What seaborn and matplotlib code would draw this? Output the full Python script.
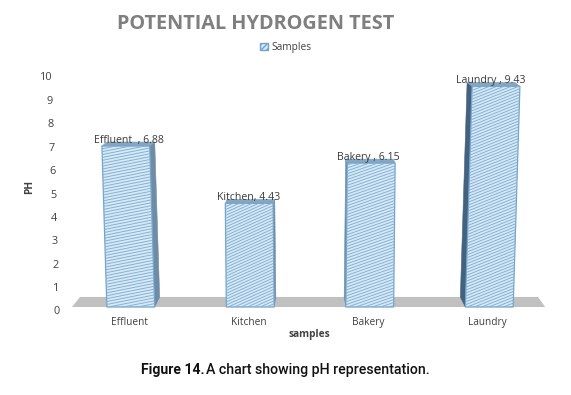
import numpy as np
import pandas as pd
import seaborn as sns
import matplotlib
matplotlib.use("Agg")
import matplotlib.pyplot as plt
from matplotlib.collections import LineCollection
from matplotlib.patches import Patch, Polygon
from matplotlib.transforms import Affine2D, ScaledTranslation

# data
categories = ["Effluent", "Kitchen", "Bakery", "Laundry"]
ph_values = [6.88, 4.43, 6.15, 9.43]
point_labels = ["Effluent  , 6.88", "Kitchen, 4.43", "Bakery , 6.15", "Laundry , 9.43"]
y_ticks = list(range(11))

sns.set_theme(style="white", rc={"font.family": ["Open Sans", "DejaVu Sans"]})

FACE = "#d8e8f4"
HATCH = "#82b2d6"
EDGE = "#74a3ca"
W, H = 571, 395

df = pd.DataFrame({"site": categories, "ph": ph_values})

fig = plt.figure(figsize=(W / 100, H / 100), dpi=100, facecolor="white")
ax = fig.add_axes([71 / W, (H - 307) / H, 478 / W, 234 / H])

sns.barplot(data=df, x="site", y="ph", width=0.4, color=FACE, saturation=1,
            edgecolor=EDGE, linewidth=0.9, zorder=3, ax=ax)
ax.set_xlim(-0.5, 3.5)
ax.set_ylim(0, 10)
sns.despine(ax=ax, left=True, bottom=True)

# grey floor
ax.add_patch(Polygon([[0.002, 0], [0.992, 0], [0.977, 0.043], [0.019, 0.043]],
                     closed=True, transform=ax.transAxes, facecolor="#c0c0c0",
                     edgecolor="none", clip_on=False, zorder=1))

# fake 3d: lean each bar away from the centre, add side and top faces
lean = 0.004
depth = 0.028
slopes = [0.2, 0.45, 0.35, 0.4]
label_dx = [-1, -1, -1, 1]
px_x = 119.5
px_y = 23.4
for i, bar in enumerate(ax.patches[:4]):
    xc = bar.get_x() + bar.get_width() / 2
    x0, x1 = bar.get_x(), bar.get_x() + bar.get_width()
    val = bar.get_height()
    k = (xc - 1.5) * lean
    dx = -(xc - 1.5) * depth
    top_l, top_r = x0 + k * val, x1 + k * val
    back_top = val + 4 / px_y
    back_bot = 10 / px_y

    # side face, on the side that faces the middle of the chart
    if dx > 0:
        side = [[top_r, val], [top_r + dx, back_top], [x1 + dx, back_bot], [x1, 0]]
    else:
        side = [[top_l, val], [top_l + dx, back_top], [x0 + dx, back_bot], [x0, 0]]
    side_col = "#44627f" if i == 3 else "#6f8ca6"
    ax.add_patch(Polygon(side, closed=True, facecolor=side_col, edgecolor=side_col,
                         linewidth=0.4, zorder=2.5, clip_on=False))
    # top face
    ax.add_patch(Polygon([[top_l, val], [top_r, val], [top_r + dx, back_top], [top_l + dx, back_top]],
                         closed=True, facecolor="#86a5bf", edgecolor="#86a5bf",
                         linewidth=0.4, zorder=2.5, clip_on=False))

    bar.set_transform(Affine2D([[1, k, 0], [0, 1, 0], [0, 0, 1]]) + ax.transData)
    bar.set_clip_on(False)

    # shallow hatch lines, matplotlib hatches are only 45 degrees
    rise = slopes[i] * px_x / px_y * 0.6
    starts = np.arange(-rise, val + 0.2, 2.9 / px_y)
    segs = [[(x0 - 0.1, s), (x0 + 0.5, s + rise)] for s in starts]
    lc = LineCollection(segs, colors=HATCH, linewidths=0.7, zorder=3.2)
    ax.add_collection(lc, autolim=False)
    lc.set_clip_path(bar.get_path(), bar.get_transform())

    ax.annotate(point_labels[i], (xc, val), xytext=(label_dx[i], 4.0),
                textcoords="offset points", ha="center", va="center",
                fontsize=7.6, color="#3b3b3b", zorder=5, annotation_clip=False)

# axis text
ax.set_yticks(y_ticks)
ax.set_yticklabels([str(t) for t in y_ticks], fontsize=7.8, color="#404040")
ax.tick_params(axis="both", length=0)
ax.tick_params(axis="y", pad=8)
for t, lab in zip(y_ticks, ax.get_yticklabels()):
    shift = ScaledTranslation(-0.75 * t / 100, -3.5 / 100, fig.dpi_scale_trans)
    lab.set_transform(lab.get_transform() + shift)
ax.set_xticks(range(4))
ax.set_xticklabels(categories, fontsize=7.3, color="#404040")
ax.tick_params(axis="x", pad=7.5)
for lab in ax.get_xticklabels():
    lab.set_transform(lab.get_transform() + ScaledTranslation(-1.5 / 100, 0, fig.dpi_scale_trans))
ax.set_xlabel("")
ax.set_ylabel("")

fig.text(309 / W, 1 - 335 / H, "samples", fontsize=7.3, fontweight="bold", color="#404040",
         ha="center", va="center")
fig.text(29.5 / W, 1 - 187 / H, "PH", fontsize=7.3, fontweight="bold", color="#404040",
         ha="center", va="center", rotation=90)
fig.text(255.5 / W, 1 - 24 / H, "POTENTIAL HYDROGEN TEST", fontsize=14.3, fontweight="bold",
         color="#7f7f7f", ha="center", va="center")
fig.text(141 / W, 1 - 370 / H, "Figure 14.", fontsize=10.1, fontweight="bold", color="#111111",
         ha="left", va="center", family="Roboto")
fig.text(430 / W, 1 - 370 / H, "A chart showing pH representation.", fontsize=10.2,
         fontweight="medium", color="#111111", ha="right", va="center", family="Roboto")

fig.legend(handles=[Patch(facecolor=FACE, edgecolor=EDGE, hatch="//////", label="Samples")],
           loc="center", bbox_to_anchor=(286 / W, 1 - 47.5 / H), frameon=False, fontsize=7.3,
           handlelength=0.8, handleheight=0.6, handletextpad=0.35, labelcolor="#404040")

fig.savefig("out.png", dpi=100)
